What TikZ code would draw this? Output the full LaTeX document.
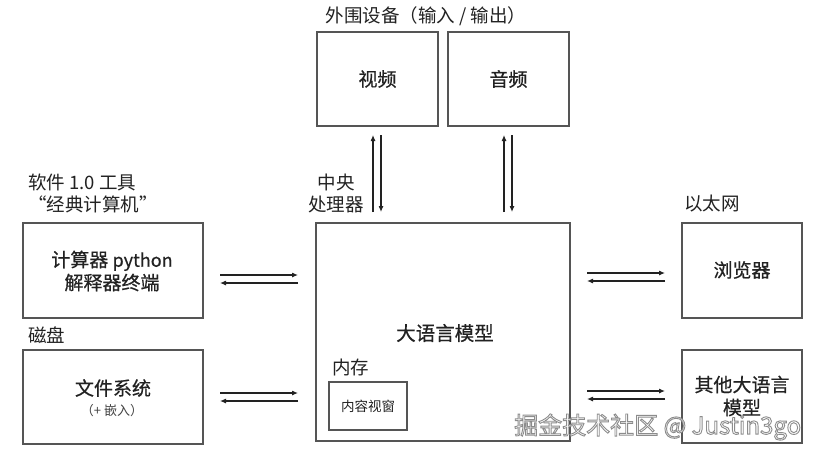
\documentclass[tikz,border=0pt]{standalone}
\usepackage{fontspec}
\setmainfont{Noto Sans CJK SC}
\newfontfamily\medfont{Noto Sans CJK SC}[FakeBold=0.6]
\usetikzlibrary{arrows.meta}
\definecolor{ln}{HTML}{555555}
\definecolor{tx}{HTML}{222222}
\tikzset{
  boxs/.style={draw=ln, line width=1.2pt},
  lbl/.style={text=tx, font=\fontsize{18.5}{22}\selectfont, inner sep=0pt},
  btxt/.style={text=tx, font=\medfont\fontsize{19}{23}\selectfont, inner sep=0pt, align=center},
  arr/.style={draw=tx, line width=1.1pt, -{Latex[length=6pt,width=5pt]}},
  wm/.style={font=\fontsize{24}{28}\selectfont, inner sep=0pt, anchor=west}
}
\begin{document}
\begin{tikzpicture}[x=1pt,y=-1pt]
\useasboundingbox (0,0) rectangle (835,458);
\fill[white] (0,0) rectangle (835,458);
% peripheral
\node[lbl] (tperi) at (426,16) {外围设备（输入 / 输出）};
\draw[boxs] (317,32) rectangle (438,126);
\node[btxt] (video) at (377.5,79) {视频};
\draw[boxs] (448,32) rectangle (569,126);
\node[btxt] (audio) at (508.5,79) {音频};
% LLM
\draw[boxs] (316,223) rectangle (570,441);
\node[text=tx, font=\medfont\fontsize{19.5}{22}\selectfont, inner sep=0pt] (llm) at (445,333) {大语言模型};
\node[lbl, anchor=west] (mem) at (332,367) {内存};
\draw[boxs] (329,382) rectangle (407,430);
\node[text=tx, font=\fontsize{13.5}{15}\selectfont, inner sep=0pt] (ctx) at (368,406) {内容视窗};
\node[lbl, align=center] (cpu) at (336,193) {中央\\处理器};
% vertical arrows
\coordinate (v1a) at (373,212); \coordinate (v1b) at (373,135);
\coordinate (v2a) at (381,135); \coordinate (v2b) at (381,212);
\coordinate (a1a) at (504,212); \coordinate (a1b) at (504,135);
\coordinate (a2a) at (512,135); \coordinate (a2b) at (512,212);
\draw[arr] (v1a) -- (v1b);
\draw[arr] (v2a) -- (v2b);
\draw[arr] (a1a) -- (a1b);
\draw[arr] (a2a) -- (a2b);
% left top
\node[lbl, anchor=west, align=left] (sw) at (28,193) {软件 1.0 工具\\“经典计算机”};
\draw[boxs] (23,223) rectangle (203,318);
\node[btxt] (calc) at (112,271) {计算器 {\fontsize{18}{22}\selectfont python}\\解释器终端};
\coordinate (c1a) at (220,275); \coordinate (c1b) at (298,275);
\coordinate (c2a) at (298,283); \coordinate (c2b) at (220,283);
\draw[arr] (c1a) -- (c1b);
\draw[arr] (c2a) -- (c2b);
% left bottom
\node[lbl, anchor=west] (disk) at (28,335) {磁盘};
\draw[boxs] (23,350) rectangle (203,444);
\node[btxt] (fs) at (113,388) {文件系统};
\node[text=tx!85, font=\fontsize{13}{15}\selectfont, inner sep=0pt] (emb) at (112,411) {（+ 嵌入）};
\coordinate (f1a) at (220,393); \coordinate (f1b) at (298,393);
\coordinate (f2a) at (298,401); \coordinate (f2b) at (220,401);
\draw[arr] (f1a) -- (f1b);
\draw[arr] (f2a) -- (f2b);
% right top
\node[lbl, anchor=west] (eth) at (684,204) {以太网};
\draw[boxs] (682,223) rectangle (802,318);
\node[btxt] (br) at (742,270) {浏览器};
\coordinate (b1a) at (587,273); \coordinate (b1b) at (665,273);
\coordinate (b2a) at (665,281); \coordinate (b2b) at (587,281);
\draw[arr] (b1a) -- (b1b);
\draw[arr] (b2a) -- (b2b);
% right bottom
\draw[boxs] (682,350) rectangle (802,443);
\node[btxt] (oth) at (742,396) {其他大语言\\模型};
\coordinate (o1a) at (587,391); \coordinate (o1b) at (665,391);
\coordinate (o2a) at (665,399); \coordinate (o2b) at (587,399);
\draw[arr] (o1a) -- (o1b);
\draw[arr] (o2a) -- (o2b);
% watermark (white fill, grey outline)
\node[wm, text=white] (wmk) at (514,427) {\special{pdf:code 2 Tr 0.9 w 0.55 G}掘金技术社区 @ Justin3go\special{pdf:code 0 Tr}};
\end{tikzpicture}
\end{document}
